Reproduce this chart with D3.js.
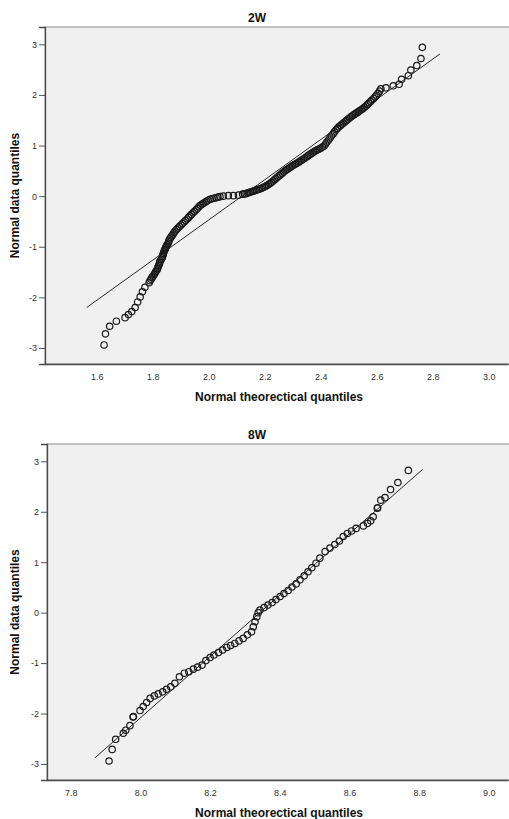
<!DOCTYPE html>
<html>
<head>
<meta charset="utf-8">
<script src="https://cdn.jsdelivr.net/npm/d3@7"></script>
<style>
  html, body { margin: 0; padding: 0; background: #ffffff; }
  svg { display: block; }
</style>
</head>
<body>
<svg id="chart" width="509" height="819"></svg>
<script>
const week2Points = [
  [1.626,-2.94],[1.631,-2.72],[1.646,-2.57],[1.670,-2.47],[1.701,-2.40],[1.713,-2.34],[1.725,-2.28],
  [1.737,-2.20],[1.746,-2.09],[1.755,-1.99],[1.763,-1.89],[1.772,-1.80],[1.787,-1.71],
  [1.794,-1.64],[1.801,-1.58],[1.808,-1.52],[1.815,-1.46],[1.819,-1.40],[1.823,-1.34],[1.826,-1.28],
  [1.833,-1.22],[1.837,-1.16],[1.840,-1.10],[1.844,-1.05],[1.848,-0.99],[1.855,-0.93],[1.858,-0.87],
  [1.865,-0.81],[1.873,-0.75],[1.880,-0.69],[1.890,-0.63],[1.901,-0.57],[1.912,-0.51],[1.923,-0.45],
  [1.933,-0.39],[1.944,-0.33],[1.955,-0.27],[1.965,-0.21],[1.976,-0.16],[1.987,-0.12],[1.998,-0.08],
  [2.012,-0.05],[2.026,-0.03],[2.040,-0.01],
  [2.052,0.00],[2.070,0.01],[2.088,0.01],[2.106,0.02],[2.121,0.04],
  [2.133,0.05],[2.144,0.07],[2.155,0.09],[2.165,0.11],[2.176,0.13],[2.187,0.15],[2.198,0.18],
  [2.208,0.21],[2.219,0.25],[2.230,0.30],[2.240,0.35],[2.251,0.40],[2.262,0.45],[2.273,0.50],
  [2.283,0.54],[2.294,0.58],[2.305,0.62],[2.315,0.65],[2.326,0.69],[2.337,0.73],[2.348,0.77],
  [2.358,0.81],[2.369,0.85],[2.380,0.89],[2.390,0.92],[2.401,0.95],[2.412,0.99],[2.422,1.07],
  [2.433,1.15],[2.444,1.23],[2.455,1.31],[2.465,1.37],[2.476,1.42],[2.487,1.47],[2.497,1.52],
  [2.508,1.57],[2.519,1.61],[2.530,1.65],[2.540,1.69],[2.551,1.73],[2.562,1.78],[2.572,1.84],
  [2.583,1.90],[2.594,1.96],[2.605,2.03],[2.615,2.12],
  [2.633,2.14],[2.659,2.18],[2.680,2.21],[2.689,2.31],[2.713,2.38],[2.722,2.49],[2.743,2.58],
  [2.758,2.72],[2.763,2.94]
];
// extra readings inside the solid black band (the sample is dense there)
const week2BandPoints = [
  [1.790,-1.67],[1.797,-1.61],[1.805,-1.55],[1.811,-1.49],[1.817,-1.43],[1.821,-1.37],[1.825,-1.31],
  [1.830,-1.25],[1.835,-1.19],[1.838,-1.13],[1.842,-1.07],[1.846,-1.02],[1.851,-0.96],[1.857,-0.90],
  [1.861,-0.84],[1.869,-0.78],[1.876,-0.72],[1.885,-0.66],[1.895,-0.60],[1.906,-0.54],[1.917,-0.48],
  [1.928,-0.42],[1.938,-0.36],[1.949,-0.30],[1.960,-0.24],[1.970,-0.18],[1.981,-0.14],[1.992,-0.10],
  [2.005,-0.06],[2.019,-0.04],[2.033,-0.02],
  [2.127,0.045],[2.138,0.06],[2.149,0.08],[2.160,0.10],[2.170,0.12],[2.181,0.14],[2.192,0.165],
  [2.203,0.195],[2.213,0.23],[2.224,0.275],[2.235,0.325],[2.245,0.375],[2.256,0.425],[2.267,0.475],
  [2.278,0.52],[2.289,0.56],[2.299,0.60],[2.310,0.635],[2.321,0.67],[2.331,0.71],[2.342,0.75],
  [2.353,0.79],[2.363,0.83],[2.374,0.87],[2.385,0.905],[2.396,0.935],[2.406,0.97],[2.417,1.03],
  [2.428,1.11],[2.438,1.19],[2.449,1.27],[2.460,1.34],[2.471,1.395],[2.481,1.445],[2.492,1.495],
  [2.503,1.545],[2.513,1.59],[2.524,1.63],[2.535,1.67],[2.546,1.71],[2.556,1.755],[2.567,1.81],
  [2.578,1.87],[2.589,1.93],[2.599,1.995],[2.610,2.075]
];
const week2Line = [[1.564,-2.20],[2.826,2.81]];
const week2XTicks = [1.6,1.8,2.0,2.2,2.4,2.6,2.8,3.0];

const week8Points = [
  [7.910,-2.94],[7.919,-2.71],[7.929,-2.51],[7.951,-2.39],[7.958,-2.33],[7.970,-2.24],[7.979,-2.07],
  [7.980,-2.06],[7.999,-1.94],[8.008,-1.86],[8.018,-1.78],[8.028,-1.70],[8.040,-1.65],[8.051,-1.61],
  [8.064,-1.57],[8.075,-1.52],[8.087,-1.47],[8.099,-1.40],[8.112,-1.27],[8.126,-1.20],[8.139,-1.17],
  [8.152,-1.12],[8.164,-1.08],[8.177,-1.04],[8.188,-0.95],[8.200,-0.89],[8.211,-0.84],[8.224,-0.79],
  [8.236,-0.74],[8.248,-0.69],[8.259,-0.65],[8.271,-0.61],[8.283,-0.56],[8.295,-0.51],[8.307,-0.44],
  [8.319,-0.38],[8.324,-0.28],[8.329,-0.18],[8.334,-0.08],[8.338,0.00],[8.343,0.05],[8.355,0.10],
  [8.366,0.15],[8.378,0.20],[8.389,0.26],[8.401,0.32],[8.412,0.38],[8.424,0.44],[8.435,0.51],
  [8.447,0.57],[8.458,0.65],[8.470,0.73],[8.481,0.81],[8.492,0.89],[8.504,0.98],[8.515,1.08],
  [8.530,1.21],[8.544,1.28],[8.558,1.35],[8.571,1.42],[8.582,1.51],[8.594,1.57],[8.606,1.62],
  [8.619,1.67],[8.640,1.72],[8.652,1.77],[8.661,1.82],[8.668,1.90],[8.680,2.07],[8.681,2.08],
  [8.690,2.23],[8.702,2.28],[8.718,2.44],[8.739,2.58],[8.769,2.82]
];
const week8Line = [[7.870,-2.875],[8.810,2.84]];
const week8XTicks = [7.8,8.0,8.2,8.4,8.6,8.8,9.0];

const yTicks = [-3,-2,-1,0,1,2,3];

// ---- panel layout (pixels) ----
const panels = [
  { title: '2W', points: week2Points.concat(week2BandPoints), line: week2Line, xTicks: week2XTicks,
    xDomain: [1.415, 3.069], yDomain: [-3.316, 3.342],
    left: 45, top: 27, bottom: 364, titleY: 22, tickY: 380, xTitleY: 401 },
  { title: '8W', points: week8Points, line: week8Line, xTicks: week8XTicks,
    xDomain: [7.732, 9.055], yDomain: [-3.317, 3.343],
    left: 47, top: 444, bottom: 780, titleY: 439, tickY: 796, xTitleY: 817 }
];

const RIGHT = 508;
const svg = d3.select('#chart');

function drawPanel(p) {
  const g = svg.append('g');
  const x = d3.scaleLinear().domain(p.xDomain).range([p.left, RIGHT]);
  const y = d3.scaleLinear().domain(p.yDomain).range([p.bottom, p.top]);

  // plot background + frame
  g.append('rect')
    .attr('x', p.left).attr('y', p.top)
    .attr('width', RIGHT + 5 - p.left).attr('height', p.bottom - p.top)
    .attr('fill', '#f0f0f0')
    .attr('stroke', '#8a8a8a')
    .attr('stroke-width', 1);

  // reference line
  g.append('line')
    .attr('x1', x(p.line[0][0])).attr('y1', y(p.line[0][1]))
    .attr('x2', x(p.line[1][0])).attr('y2', y(p.line[1][1]))
    .attr('stroke', '#2a2a2a')
    .attr('stroke-width', 1);

  // points (hollow circles)
  g.selectAll('circle.pt')
    .data(p.points)
    .enter()
    .append('circle')
    .attr('class', 'pt')
    .attr('cx', d => x(d[0]))
    .attr('cy', d => y(d[1]))
    .attr('r', 3.2)
    .attr('fill', 'none')
    .attr('stroke', '#1a1a1a')
    .attr('stroke-width', 1.2);

  // y axis
  const yAxis = g.append('g')
    .attr('transform', `translate(${p.left},0)`)
    .call(d3.axisLeft(y).tickValues(yTicks).tickSize(6).tickPadding(2).tickFormat(d => String(d)));
  yAxis.select('.domain').attr('stroke', '#4a4a4a').attr('stroke-width', 1.3);
  yAxis.selectAll('.tick line').attr('stroke', '#555');
  yAxis.selectAll('.tick text')
    .attr('font-family', '"Liberation Sans Narrow", "Liberation Sans", Arial, sans-serif')
    .attr('font-size', 9).attr('fill', '#333');

  // x axis
  const xAxis = g.append('g')
    .attr('transform', `translate(0,${p.bottom})`)
    .call(d3.axisBottom(x).tickValues(p.xTicks).tickSize(0).tickPadding(0).tickFormat(d3.format('.1f')));
  xAxis.select('.domain').attr('stroke', '#4a4a4a').attr('stroke-width', 1.3);
  xAxis.selectAll('.tick text')
    .attr('y', p.tickY - p.bottom).attr('dy', 0)
    .attr('font-family', '"Liberation Sans Narrow", "Liberation Sans", Arial, sans-serif')
    .attr('font-size', 9).attr('fill', '#333');

  // titles
  svg.append('text')
    .attr('x', 257).attr('y', p.titleY)
    .attr('text-anchor', 'middle')
    .attr('font-family', '"Liberation Sans", Arial, sans-serif')
    .attr('font-size', 12).attr('font-weight', 'bold').attr('fill', '#111')
    .text(p.title);

  svg.append('text')
    .attr('x', 279).attr('y', p.xTitleY)
    .attr('text-anchor', 'middle')
    .attr('font-family', '"Liberation Sans", Arial, sans-serif')
    .attr('font-size', 12).attr('font-weight', 'bold').attr('fill', '#111')
    .text('Normal theorectical quantiles');

  svg.append('text')
    .attr('transform', `translate(19,${(p.top + p.bottom) / 2}) rotate(-90)`)
    .attr('text-anchor', 'middle')
    .attr('font-family', '"Liberation Sans", Arial, sans-serif')
    .attr('font-size', 12).attr('font-weight', 'bold').attr('fill', '#111')
    .text('Normal data quantiles');
}

panels.forEach(drawPanel);
</script>
</body>
</html>
